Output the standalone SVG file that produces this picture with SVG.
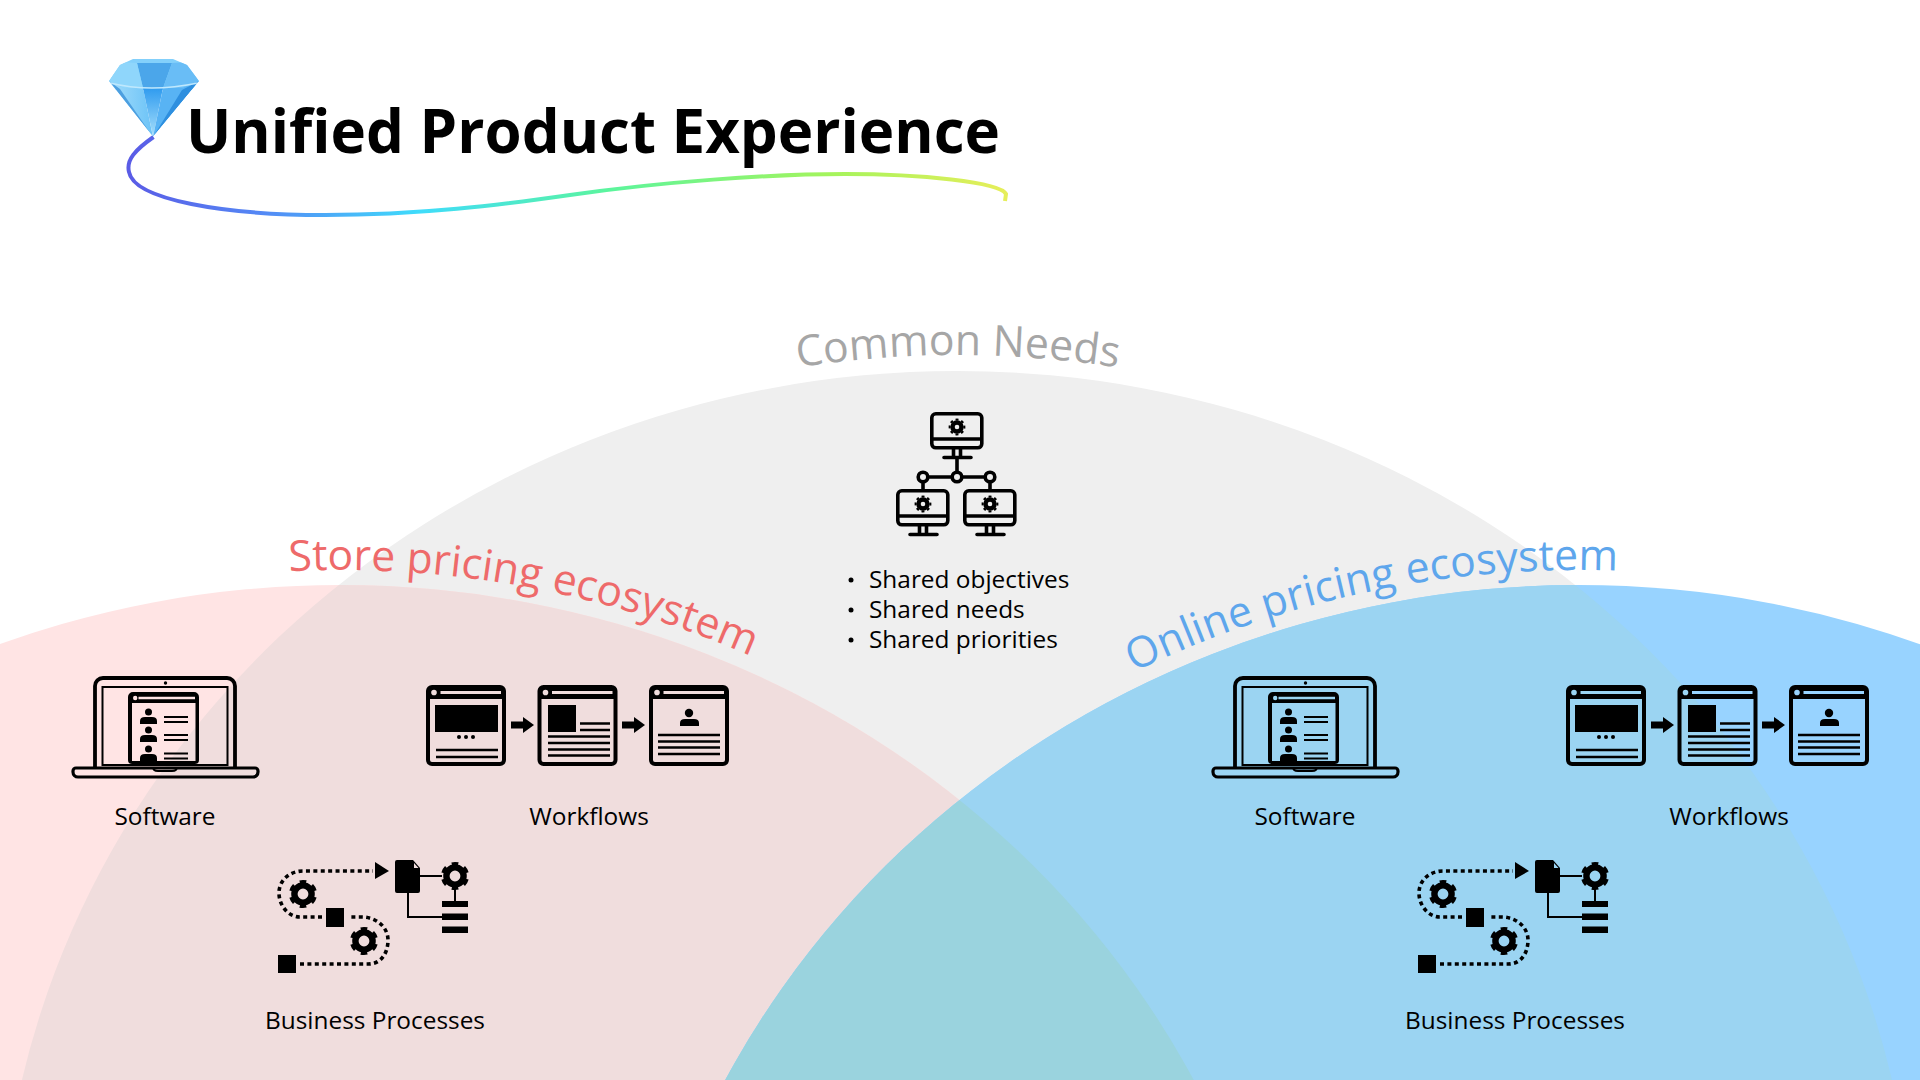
<svg xmlns="http://www.w3.org/2000/svg" width="1920" height="1080" viewBox="0 0 1920 1080">
<style>
text{font-family:"Open Sans","Noto Sans",sans-serif;fill:#000}
.label{font-size:24.4px;text-anchor:middle}
.list{font-size:24.4px}
.title{font-size:60px;font-weight:700}
.arc{font-size:42.7px}
.s{fill:none;stroke:#000;stroke-width:4}
.s3{fill:none;stroke:#000;stroke-width:3.6}
.k{fill:#000}
.dot{fill:none;stroke:#000;stroke-width:3.6;stroke-dasharray:4 3.4}
</style>
<defs>
<linearGradient id="swoosh" gradientUnits="userSpaceOnUse" x1="130" y1="0" x2="1005" y2="0">
<stop offset="0" stop-color="#5a5ce6"/><stop offset=".15" stop-color="#5488f5"/><stop offset=".33" stop-color="#3fdcfb"/><stop offset=".55" stop-color="#5cf59c"/><stop offset=".8" stop-color="#a4f45c"/><stop offset="1" stop-color="#e6ee5a"/>
</linearGradient>
<linearGradient id="pav" x1="0" y1="0" x2="1" y2="0"><stop offset="0" stop-color="#a9dffb"/><stop offset="1" stop-color="#6cc3f7"/></linearGradient>
<linearGradient id="pav2" x1="0" y1="0" x2="0" y2="1"><stop offset="0" stop-color="#2f9bef"/><stop offset="1" stop-color="#a8e0fb"/></linearGradient>
<ellipse id="eGrey" cx="957" cy="1277" rx="958" ry="906"/>
<ellipse id="ePink" cx="340" cy="1491" rx="958" ry="906"/>
<ellipse id="eBlue" cx="1579" cy="1491" rx="958" ry="906"/>
<clipPath id="cGrey"><use href="#eGrey"/></clipPath>
<clipPath id="cPink"><use href="#ePink"/></clipPath>
<clipPath id="cGem"><path d="M109 81L120 65L133 59H173L187 65L199 81L153 136.500Z"/></clipPath>
<path id="arcCommon" d="M798 367.400A975 922 0 0 1 1125 368.800"/>
<path id="arcStore" d="M289 571.300A973 921 0 0 1 800 679.400"/>
<path id="arcOnline" d="M1134 672A973 921 0 0 1 1660 573.200"/>
<g id="gear6"><circle r="8.600" style="fill:none;stroke:#000;stroke-width:6.400"/><circle r="12.400" fill="none" stroke="#000" stroke-width="3.400" pathLength="12" stroke-dasharray="1 1" transform="rotate(-105)"/></g>
<g id="gear8"><circle r="4.500" fill="none" stroke="#000" stroke-width="4.400"/><circle r="7.400" fill="none" stroke="#000" stroke-width="2" pathLength="16" stroke-dasharray="1 1" transform="rotate(-101)"/></g>
<g id="monitor"><rect x="1.800" y="1.800" width="50" height="34" rx="4" class="s3"/><path d="M2 27H52" class="s3"/><use href="#gear8" x="27" y="15"/><path d="M23.500 36V45M30.500 36V45M14 45.500H41" class="s3" stroke-linecap="round"/></g>
<g id="softwareIcon">
<path d="M95 767V686a8 8 0 0 1 8-8H227a8 8 0 0 1 8 8V767" fill="none" stroke="#000" stroke-width="3.800"/>
<rect x="102.500" y="687" width="125" height="78" fill="none" stroke="#000" stroke-width="2"/>
<circle cx="165.500" cy="683" r="1.700"/>
<path d="M76 768H255a3 3 0 0 1 3 3v1a5 5 0 0 1-5 5H78a5 5 0 0 1-5-5v-1a3 3 0 0 1 3-3Z" fill="none" stroke="#000" stroke-width="3.200"/>
<path d="M153 767q0 4 5 4H172q5 0 5-4" fill="none" stroke="#000" stroke-width="2"/>
<path fill-rule="evenodd" d="M133 692H194a5 5 0 0 1 5 5V760a4 4 0 0 1-4 4H132a4 4 0 0 1-4-4V697a5 5 0 0 1 5-5ZM132 703V761H195.500V703ZM138.500 696.800V699.200H195V696.800ZM133 698a2.200 2.200 0 1 0 4.400 0a2.200 2.200 0 1 0-4.400 0Z"/>
<g id="swPerson"><circle cx="148.500" cy="712" r="3.500"/><path d="M140 724v-3q0-4 5-4H152q5 0 5 4v3Z"/><path d="M164 717H188M164 722H188" stroke="#000" stroke-width="1.800"/></g>
<use href="#swPerson" y="18"/>
<circle cx="148.500" cy="749" r="3.500"/><path d="M140 762v-4q0-4 5-4H152q5 0 5 4v4Z"/><path d="M164 753.500H188M164 758.500H188" stroke="#000" stroke-width="1.800"/>
</g>
<g id="win">
<rect x="2" y="2" width="76" height="77" rx="4" class="s"/>
<path fill-rule="evenodd" d="M2 2H78V14H2ZM14.500 6V9H75V6ZM5.200 7.500a2.800 2.800 0 1 0 5.600 0a2.800 2.800 0 1 0-5.600 0Z"/>
</g>
<path id="arrowHead" d="M0 -3.600H12V-8L23 0L12 8V3.600H0Z"/>
<g id="workflowsIcon">
<use href="#win" x="426" y="685"/>
<path d="M435 705H498V732H435Z"/><circle cx="459" cy="737" r="2"/><circle cx="466" cy="737" r="2"/><circle cx="473" cy="737" r="2"/>
<path d="M436 750H498M436 757H498" stroke="#000" stroke-width="2.400"/>
<use href="#arrowHead" x="511" y="725"/>
<use href="#win" x="537.500" y="685"/>
<path d="M548 705H576V732H548Z"/><path d="M580 723.500H610M580 730H610M548 736.500H610M548 743H610M548 749.500H610M548 755.500H610" stroke="#000" stroke-width="2.400"/>
<use href="#arrowHead" x="622" y="725"/>
<use href="#win" x="649" y="685"/>
<circle cx="689" cy="713" r="4.200"/><path d="M680 726v-3q0-4 5-4H694q5 0 5 4v3Z"/>
<path d="M658 735H720M658 741.500H720M658 747.500H720M658 754H720" stroke="#000" stroke-width="2.400"/>
</g>
<g id="processIcon">
<path class="dot" d="M300 964H368C382 964 388 952 388 940C388 927 376 917 362 917H348"/>
<path class="dot" d="M322 917H300C288 917 279 905 279 893C279 880 290 871 303 871H373"/>
<path d="M375 862L389 871L375 879Z"/>
<path d="M278 955H296V973H278Z"/><path d="M326 908H344V927H326Z"/>
<use href="#gear6" x="303" y="894"/><use href="#gear6" x="364" y="941"/><use href="#gear6" x="455" y="876"/>
<path fill-rule="evenodd" d="M397 860H413L420 868V891a2 2 0 0 1-2 2H397a2 2 0 0 1-2-2V862a2 2 0 0 1 2-2ZM414 863V868H418.500Z"/>
<path d="M420 876H442M455 888V901M408 893V917H442" fill="none" stroke="#000" stroke-width="2"/>
<path d="M442 901H468V907H442ZM442 913.500H468V920H442ZM442 926.500H468V933H442Z"/>
</g>
</defs>
<rect width="1920" height="1080" fill="#fff"/>
<g id="regions">
<use href="#eGrey" fill="#efefef"/>
<use href="#ePink" fill="#ffe4e4"/>
<use href="#ePink" fill="#f0dddd" clip-path="url(#cGrey)"/>
<use href="#eBlue" fill="#98d3ff"/>
<use href="#eBlue" fill="#9bd4f2" clip-path="url(#cGrey)"/>
<use href="#eBlue" fill="#9ad3de" clip-path="url(#cPink)"/>
</g>
<g id="header">
<path id="swoosh-line" d="M153.500 137C135 150 126 160 129 172C134 200 225 215 325 215C420 215 500 205 570 195C660 182 770 174 845 174C920 174 1000 182 1006 194L1005 201" fill="none" stroke="url(#swoosh)" stroke-width="4"/>
<g id="gem" clip-path="url(#cGem)">
<path d="M105 55H203V90H105Z" fill="#83d0fb"/>
<path d="M137 63H172L163 88H143Z" fill="#4ba6ea"/>
<path d="M120 62L137 63L143 88H124L109 81Z" fill="#8fd6fb"/>
<path d="M187 62L172 63L163 88H182L199 81Z" fill="#69bdf6"/>
<path d="M105 80L124 88H143L153 137Z" fill="url(#pav)"/>
<path d="M143 88H163L153 137Z" fill="url(#pav2)"/>
<path d="M163 88H182L199 81L153 137Z" fill="#58b3f4"/>
<path d="M199 81L182 90L153 137Z" fill="#2e8fdf"/>
<path d="M109 81L120 89L153 137Z" fill="#4d9fe0"/>
<path d="M110 83Q150 93 198 83" fill="none" stroke="#bfe8fd" stroke-width="1.500"/>
</g>
<text class="title" x="186" y="153">Unified Product Experience</text>
</g>
<g id="node-common">
<text class="arc" style="fill:#a6a6a6"><textPath href="#arcCommon">Common Needs</textPath></text>
<use href="#monitor" x="930" y="412"/>
<use href="#monitor" x="896" y="489"/>
<use href="#monitor" x="963" y="489"/>
<path d="M957 457V472M928 477H952M962 477H985M923 482V489M990 482V489" class="s3"/>
<circle cx="923" cy="477" r="4.800" class="s3"/><circle cx="957" cy="477" r="4.800" class="s3"/><circle cx="990" cy="477" r="4.800" class="s3"/>
<circle cx="851" cy="580" r="2.500"/><circle cx="851" cy="610" r="2.500"/><circle cx="851" cy="640" r="2.500"/>
<text class="list" x="869" y="588">Shared objectives</text>
<text class="list" x="869" y="618">Shared needs</text>
<text class="list" x="869" y="648">Shared priorities</text>
</g>
<g id="node-store">
<text class="arc" style="fill:#ee6a6a"><textPath href="#arcStore">Store pricing ecosystem</textPath></text>
<g id="store-software"><use href="#softwareIcon"/><text class="label" x="165" y="825">Software</text></g>
<g id="store-workflows"><use href="#workflowsIcon"/><text class="label" x="589" y="825">Workflows</text></g>
<g id="store-processes"><use href="#processIcon"/><text class="label" x="375" y="1029">Business Processes</text></g>
</g>
<g id="node-online">
<text class="arc" style="fill:#5ea6ec"><textPath href="#arcOnline">Online pricing ecosystem</textPath></text>
<g id="online-software"><use href="#softwareIcon" x="1140"/><text class="label" x="1305" y="825">Software</text></g>
<g id="online-workflows"><use href="#workflowsIcon" x="1140"/><text class="label" x="1729" y="825">Workflows</text></g>
<g id="online-processes"><use href="#processIcon" x="1140"/><text class="label" x="1515" y="1029">Business Processes</text></g>
</g>
</svg>
